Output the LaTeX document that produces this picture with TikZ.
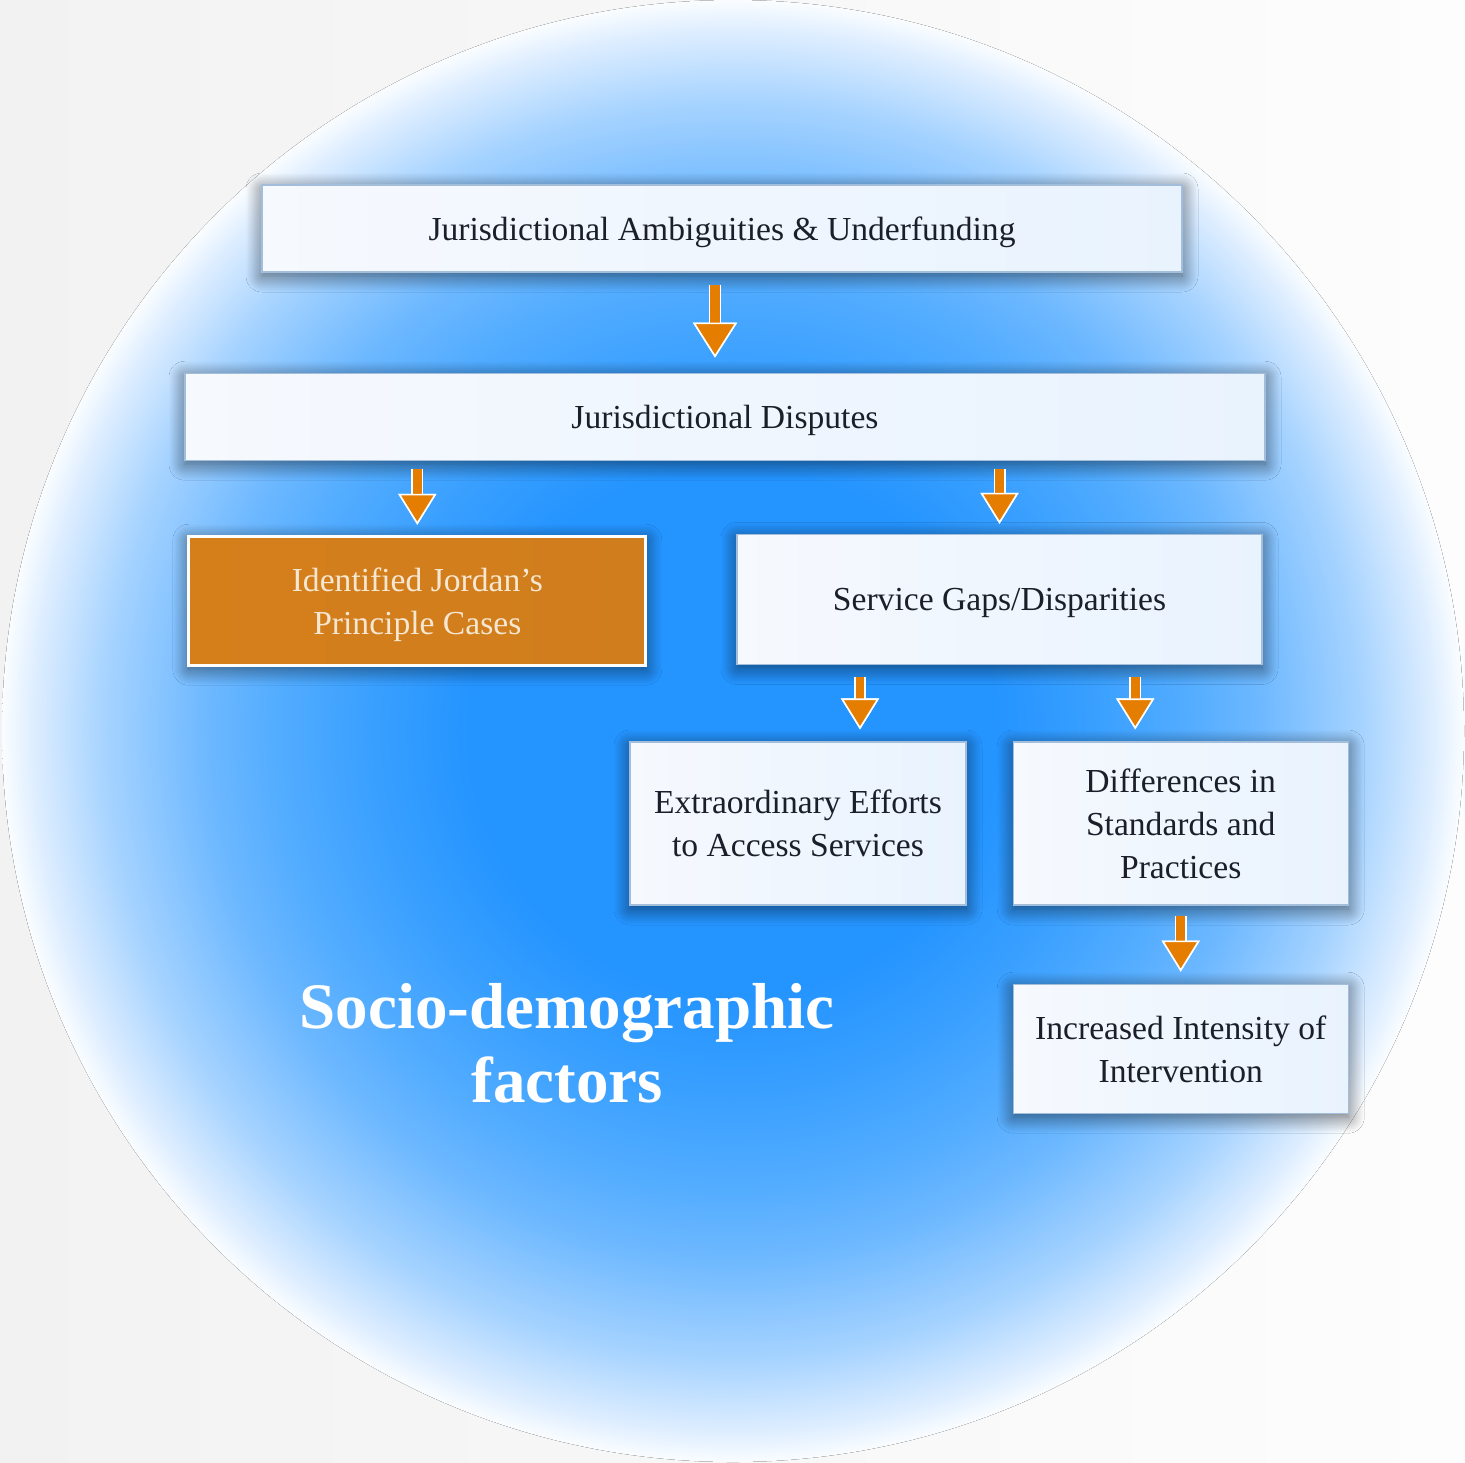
\documentclass[tikz,border=0pt]{standalone}
\usepackage{fontspec}
\setmainfont{Liberation Serif}
\usetikzlibrary{positioning,arrows.meta,shadows.blur}

\definecolor{bgleft}{HTML}{F2F2F2}
\definecolor{bgright}{HTML}{FDFDFD}
\definecolor{ballA}{HTML}{2494FF}
\definecolor{ballB}{HTML}{3AA0FF}
\definecolor{ballC}{HTML}{52ACFF}
\definecolor{ballD}{HTML}{6DB8FF}
\definecolor{ballE}{HTML}{A6D3FF}
\definecolor{ballF}{HTML}{DFEEFF}
\definecolor{ballG}{HTML}{FAFDFF}
\definecolor{boxleft}{HTML}{F6F9FE}
\definecolor{boxright}{HTML}{E9F3FE}
\definecolor{boxline}{HTML}{A3BEDB}
\definecolor{boxtext}{HTML}{1B1F2A}
\definecolor{jordanA}{HTML}{D57F1B}
\definecolor{jordanB}{HTML}{D07D1D}
\definecolor{jordantext}{HTML}{F5E7D2}
\definecolor{arrowfill}{HTML}{E57E00}

% the circle edge sits at 25bp
\pgfdeclareradialshading{sphere}{\pgfpoint{0bp}{0bp}}{%
  color(0bp)=(ballA); color(9bp)=(ballA); color(12.5bp)=(ballB);
  color(15.5bp)=(ballC); color(18bp)=(ballD); color(21.5bp)=(ballE);
  color(24bp)=(ballF); color(25bp)=(ballG); color(50bp)=(ballG)}

\tikzset{
  stage/.style={rectangle, draw=boxline, line width=0.6pt,
    left color=boxleft, right color=boxright, text=boxtext, align=center,
    font=\fontsize{16.8}{21.5}\selectfont, inner sep=0pt, text depth=0pt,
    blur shadow={shadow xshift=0pt, shadow yshift=-2pt,
      shadow blur radius=8pt, shadow blur steps=24, shadow opacity=58}},
  jordanbox/.style={stage, draw=white, line width=1.4pt,
    left color=jordanA, right color=jordanB, text=jordantext},
  title/.style={text=white, align=center, inner sep=0pt,
    font=\bfseries\fontsize{32.5}{37}\selectfont},
  flow/.style={draw=arrowfill, line width=4.4pt,
    -{Triangle[width=19pt,length=15.5pt,fill=arrowfill,color=white,line width=0.8pt]},
    preaction={draw=white, line width=6pt,
      -{Triangle[width=19pt,length=15.5pt,fill=white,color=white,line width=0.8pt]}}},
  bigflow/.style={draw=arrowfill, line width=4.6pt,
    -{Triangle[width=22pt,length=17.5pt,fill=arrowfill,color=white,line width=0.8pt]},
    preaction={draw=white, line width=6.2pt,
      -{Triangle[width=22pt,length=17.5pt,fill=white,color=white,line width=0.8pt]}}}
}

\begin{document}
\begin{tikzpicture}[x=0.5pt, y=-0.5pt]
		% Background and circle
		\fill[left color=bgleft, right color=bgright] (0,0) rectangle (1465,1462);
		\fill[shading=sphere] (733,731) circle [radius=365.5pt];

		% Define nodes
		\node[stage, minimum width=460pt, minimum height=43.5pt] (top) at (722,228.5) {Jurisdictional Ambiguities \& Underfunding};
		\node[stage, minimum width=540pt, minimum height=43.5pt, below = 50pt of top, xshift=1.5pt] (disputes) {Jurisdictional Disputes};
		\node[jordanbox, minimum width=228.5pt, minimum height=64.5pt, below = 37pt of disputes.south west, anchor=north west, xshift=1.5pt] (jordan) {Identified Jordan's\\Principle Cases};
		\node[stage, minimum width=262.5pt, minimum height=65pt, below = 36.5pt of disputes.south east, anchor=north east, xshift=-1.5pt] (service) {Service Gaps/Disparities};
		\node[stage, minimum width=168pt, minimum height=81.5pt] (extra) at (798,823.5) {Extraordinary Efforts\\to Access Services};
		\node[stage, minimum width=167.5pt, minimum height=81.5pt, right = 23pt of extra] (diff) {Differences in\\Standards and\\Practices};
		\node[stage, minimum width=167.5pt, minimum height=64.5pt, below = 39pt of diff] (incr) {Increased Intensity of\\Intervention};
		\node[title] (socio) at (567,1043) {Socio-demographic\\factors};

		% Arrows
		\coordinate (a1) at ([xshift=-3.5pt]top.south);
		\coordinate (a4) at ([xshift=31pt]extra.north);
		\coordinate (a5) at ([xshift=-22.75pt]diff.north);
		\draw[bigflow, shorten <=6pt, shorten >=7.5pt] (a1) -- (a1 |- disputes.north);
		\draw[flow, shorten <=4pt, shorten >=5pt] (disputes.south -| jordan.north) -- (jordan.north);
		\draw[flow, shorten <=4pt, shorten >=5pt] (disputes.south -| service.north) -- (service.north);
		\draw[flow, shorten <=6pt, shorten >=6pt] (service.south -| a4) -- (a4);
		\draw[flow, shorten <=6pt, shorten >=6pt] (service.south -| a5) -- (a5);
		\draw[flow, shorten <=5pt, shorten >=6pt] (diff.south) -- (incr.north);
	\end{tikzpicture}
\end{document}
